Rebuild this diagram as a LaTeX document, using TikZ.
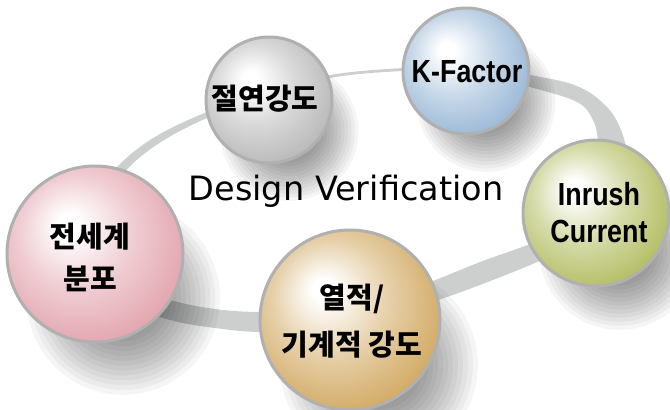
\documentclass[tikz,border=0pt]{standalone}
\usepackage{fontspec}
\newfontfamily\kr{Noto Sans CJK KR}
\newfontfamily\lat[FakeStretch=0.84]{Liberation Sans}
\newfontfamily\dv{DejaVu Sans}
\definecolor{ringc}{HTML}{CDCFCF}
\definecolor{rimc}{HTML}{B0B0B0}
\definecolor{greyc}{HTML}{B9B9B9}
\definecolor{bluec}{HTML}{9BB9D7}
\definecolor{greenc}{HTML}{B4BE64}
\definecolor{goldc}{HTML}{D2AA64}
\definecolor{pinkc}{HTML}{E3A5AF}
\newcommand\mkball[2]{\pgfdeclareradialshading{#1}{\pgfpoint{-8bp}{9bp}}{color(0bp)=(white); color(3bp)=(white); color(16bp)=(#2!55!white); color(30bp)=(#2); color(50bp)=(#2)}}
\mkball{ballgrey}{greyc}
\mkball{ballblue}{bluec}
\mkball{ballgreen}{greenc}
\mkball{ballgold}{goldc}
\mkball{ballpink}{pinkc}
\newcommand\sphshadow[3]{% x, y, r
  \foreach \k in {1,...,20}{
    \fill[black, opacity=0.04] ({#1+0.32*#3},{#2+0.5*#3}) circle ({1.1*#3*\k/20 pt});}}
\tikzset{
  sphere/.style={circle, draw=rimc, line width=3pt, inner sep=0pt},
  krlab/.style={inner sep=0pt, align=center, text=black, font=\kr\bfseries\fontsize{29}{42}\selectfont},
  latlab/.style={inner sep=0pt, align=center, text=black, font=\lat\bfseries\fontsize{32}{37}\selectfont},
}
\begin{document}
\begin{tikzpicture}[x=1pt, y=-1pt]
\useasboundingbox (0,0) rectangle (670,410);
% ring
\fill[ringc, even odd rule]
  plot[smooth cycle, tension=0.6] coordinates {(330,75) (403,68) (470,66) (530,75) (577,86) (606,106) (621,130) (627,160) (618,195) (595,225) (560,250) (535,263) (480,285) (430,303) (380,320) (320,330) (260,332) (215,328) (170,320) (120,302) (85,275) (75,245) (85,205) (117,167) (150,140) (195,117) (260,92)}
  plot[smooth cycle, tension=0.6] coordinates {(330,78) (403,71) (470,71) (530,87) (577,102) (593,120) (598,140) (600,165) (590,195) (570,222) (540,240) (480,262) (430,282) (380,298) (320,310) (260,312) (215,309) (170,300) (130,285) (102,262) (92,240) (99,210) (122,175) (152,148) (196,123) (260,97)};
% shadows
\sphshadow{269}{100}{63}
\sphshadow{466}{71}{63}
\sphshadow{596}{213}{73}
\sphshadow{95}{254}{88}
\sphshadow{350}{320}{90}
% spheres
\node[sphere, shading=ballgrey, minimum size=126pt] (s1) at (269,100) {};
\node[sphere, shading=ballblue, minimum size=126pt] (s2) at (466,71) {};
\node[sphere, shading=ballgreen, minimum size=146pt] (s3) at (596,213) {};
\node[sphere, shading=ballpink, minimum size=176pt] (s5) at (95,254) {};
\node[sphere, shading=ballgold, minimum size=180pt] (s4) at (350,320) {};
% labels
\node[krlab] (t1) at (265,99) {절연강도};
\node[latlab] (t2) at (467,72) {K-Factor};
\node[latlab] (t3) at (599,213) {Inrush\\Current};
\node[krlab] (t5) at (90,257) {전세계\\분포};
\node[krlab, font=\kr\bfseries\fontsize{29}{47}\selectfont] (t4) at (352,321) {열적/\\기계적 강도};
\node[inner sep=0pt, anchor=base, font=\dv\fontsize{33.5}{40}\selectfont] (dv) at (346,200) {Design Verification};
\end{tikzpicture}
\end{document}
